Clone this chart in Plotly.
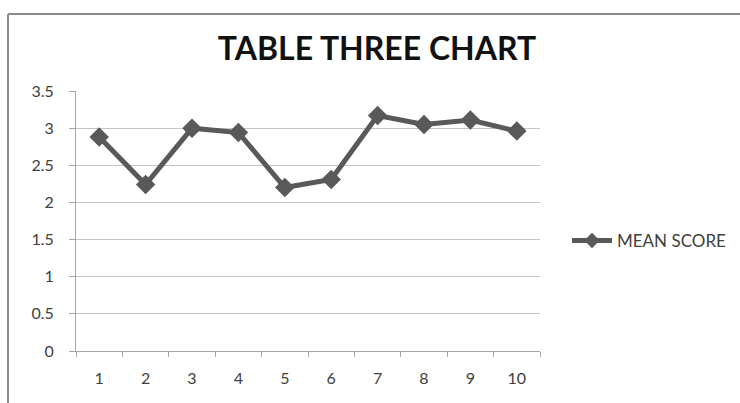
import plotly.graph_objects as go

categories = ["1", "2", "3", "4", "5", "6", "7", "8", "9", "10"]
mean_score = [2.88, 2.24, 3.00, 2.94, 2.20, 2.31, 3.17, 3.05, 3.11, 2.96]
y_ticks = [0, 0.5, 1, 1.5, 2, 2.5, 3, 3.5]
y_tick_text = ["0", "0.5", "1", "1.5", "2", "2.5", "3", "3.5"]

W, H = 740, 403
L, R, T, B = 76, 200, 91, 52
pw, ph = W - L - R, H - T - B

def px(x):
    return (x - L) / pw

def py(y):
    return (H - B - y) / ph

fig = go.Figure()
fig.add_trace(go.Scatter(
    x=categories, y=mean_score, mode="lines+markers", name="MEAN SCORE",
    line=dict(color="#595959", width=5),
    marker=dict(symbol="diamond", size=15, color="#595959"),
))

fig.update_layout(
    width=W, height=H,
    margin=dict(l=L, r=R, t=T, b=B, autoexpand=False),
    paper_bgcolor="white", plot_bgcolor="white",
    font=dict(family="Lato, 'Open Sans', sans-serif", color="#404040"),
    title=dict(text="<b>TABLE THREE CHART</b>", xref="container", x=377 / W,
               xanchor="center", y=1 - 49 / H, yanchor="middle",
               font=dict(size=32, color="#111111", family="Lato, sans-serif")),
    showlegend=True,
    legend=dict(x=px(567), xanchor="left", y=py(241), yanchor="middle",
                itemsizing="constant", itemwidth=40,
                font=dict(size=17, color="#404040"), bgcolor="rgba(0,0,0,0)"),
    xaxis=dict(type="category", range=[-0.5, len(categories) - 0.5],
               tickson="boundaries", ticks="outside", ticklen=5,
               tickcolor="#a6a6a6", showline=True, linecolor="#a6a6a6", linewidth=1,
               showgrid=False, tickfont=dict(size=16, color="#404040"),
               ticklabelstandoff=13, fixedrange=True, automargin=False),
    yaxis=dict(range=[0, 3.5], tickvals=y_ticks, ticktext=y_tick_text,
               ticks="outside", ticklen=6, tickcolor="#a6a6a6",
               showline=True, linecolor="#a6a6a6", linewidth=1,
               showgrid=True, gridcolor="#c4c4c4", gridwidth=1, zeroline=False,
               tickfont=dict(size=16, color="#404040"), ticklabelstandoff=12,
               automargin=False),
    shapes=[
        dict(type="line", xref="paper", yref="paper", x0=px(8), x1=px(740),
             y0=py(14), y1=py(14), line=dict(color="#8c8c8c", width=2)),
        dict(type="line", xref="paper", yref="paper", x0=px(8), x1=px(8),
             y0=py(14), y1=py(403), line=dict(color="#8c8c8c", width=2)),
    ],
)

fig.write_html("out.html")
